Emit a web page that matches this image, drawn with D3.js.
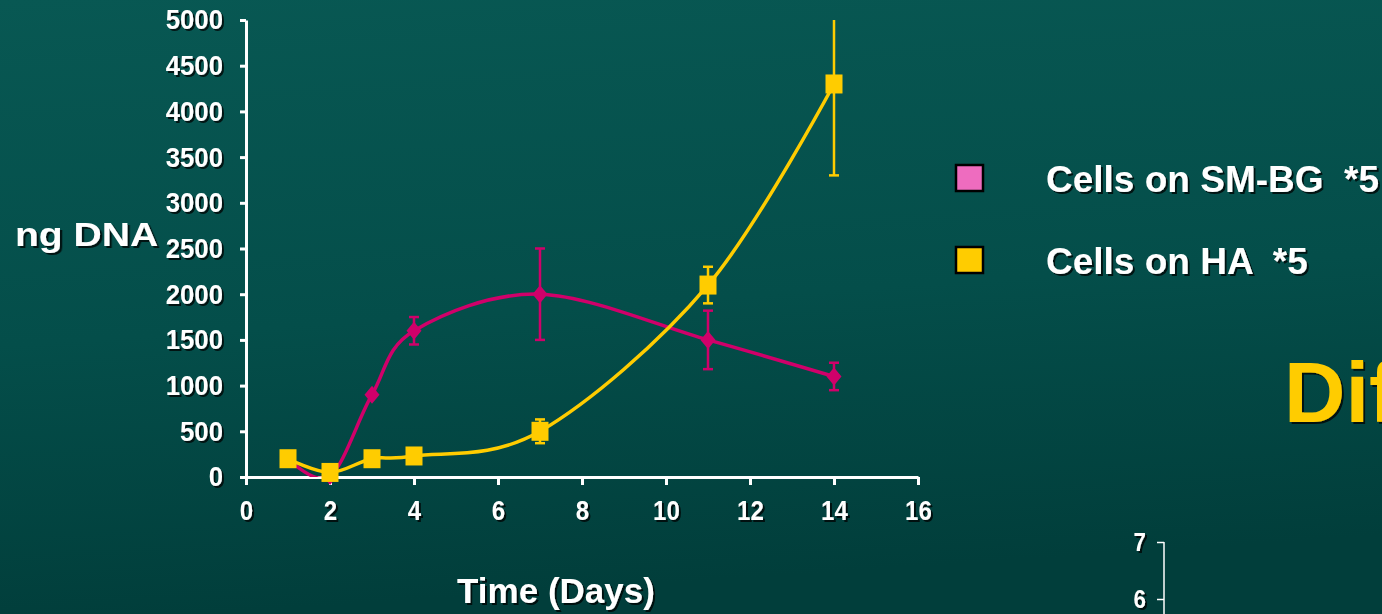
<!DOCTYPE html>
<html>
<head>
<meta charset="utf-8">
<script src="https://cdn.jsdelivr.net/npm/d3@7"></script>
<style>
  html, body { margin: 0; padding: 0; background: #05504c; overflow: hidden; }
  svg { display: block; }
</style>
</head>
<body>
<div id="chart"></div>
<script>
// Data
const days = [1, 2, 3, 4, 7, 11, 14];
const smbgValues = [200, 10, 900, 1600, 2000, 1500, 1100];
const smbgErrors = [0, 0, 0, 150, 500, 320, 150];
const haValues = [200, 50, 200, 230, 500, 2100, 4300];
const haErrors = [0, 0, 0, 0, 130, 200, 1000];
const xTicks = [0, 2, 4, 6, 8, 10, 12, 14, 16];
const yTicks = [0, 500, 1000, 1500, 2000, 2500, 3000, 3500, 4000, 4500, 5000];
const legendLabels = ["Cells on SM-BG  *5", "Cells on HA  *5"];
const secondTicks = [6, 7];

const width = 1382, height = 614;
const colorPink = "#d0006a";
const colorPinkLegend = "#ee6cbf";
const colorYellow = "#ffcc00";
const mainFont = "'Liberation Sans', Arial, sans-serif";

const svg = d3.select("#chart").append("svg")
  .attr("width", width)
  .attr("height", height);

const defs = svg.append("defs");
const grad = defs.append("linearGradient")
  .attr("id", "bg").attr("x1", 0).attr("y1", 0).attr("x2", 0.15).attr("y2", 1);
grad.append("stop").attr("offset", "0%").attr("stop-color", "#085853");
grad.append("stop").attr("offset", "55%").attr("stop-color", "#044e4a");
grad.append("stop").attr("offset", "100%").attr("stop-color", "#013e3b");

// dark text shadow like the slide
const shadow = defs.append("filter").attr("id", "shadow")
  .attr("x", "-10%").attr("y", "-10%").attr("width", "130%").attr("height", "140%");
shadow.append("feDropShadow")
  .attr("dx", 2).attr("dy", 2).attr("stdDeviation", 0.6)
  .attr("flood-color", "#000").attr("flood-opacity", 0.75);

// plot area clip (lines stay inside 0..5000)
defs.append("clipPath").attr("id", "plotClip")
  .append("rect").attr("x", 200).attr("y", 19).attr("width", 760).attr("height", 458);

svg.append("rect").attr("width", width).attr("height", height).attr("fill", "url(#bg)");

// scales
const x = d3.scaleLinear().domain([0, 16]).range([246, 918]);
const y = d3.scaleLinear().domain([0, 5000]).range([477, 20]);

// axes
const yAxis = svg.append("g")
  .attr("transform", `translate(${x(0)},0)`)
  .call(d3.axisLeft(y).tickValues(yTicks).tickSize(6).tickSizeOuter(0).tickPadding(17)
    .tickFormat(d3.format("d")));

const xAxis = svg.append("g")
  .attr("transform", `translate(0,${y(0)})`)
  .call(d3.axisBottom(x).tickValues(xTicks).tickSize(8).tickSizeOuter(0).tickPadding(15)
    .tickFormat(d3.format("d")));

// the slide uses a narrow bold face for tick labels: squeeze the glyphs a bit
function narrow(sel, ratio) {
  sel.each(function() {
    const w = this.getComputedTextLength();
    d3.select(this).attr("textLength", w * ratio).attr("lengthAdjust", "spacingAndGlyphs");
  });
}

[[yAxis, 0.92], [xAxis, 0.86]].forEach(([g, ratio]) => {
  g.select(".domain").attr("stroke", "#fff").attr("stroke-width", 3);
  g.selectAll(".tick line").attr("stroke", "#fff").attr("stroke-width", 3);
  g.selectAll(".tick text")
    .attr("fill", "#fff")
    .style("font-family", mainFont)
    .style("font-weight", "bold")
    .style("font-size", "28px")
    .attr("filter", "url(#shadow)")
    .call(narrow, ratio);
});

// series
const curve = d3.curveCatmullRom.alpha(0);
const line = d3.line().curve(curve).x(d => x(d.day)).y(d => y(d.value));

const smbg = days.map((d, i) => ({ day: d, value: smbgValues[i], err: smbgErrors[i] }));
const ha = days.map((d, i) => ({ day: d, value: haValues[i], err: haErrors[i] }));

function drawErrors(parent, data, color) {
  const eb = parent.append("g").attr("stroke", color).attr("stroke-width", 2.5);
  data.filter(d => d.err > 0).forEach(d => {
    const top = Math.min(d.value + d.err, 5000);
    const bot = d.value - d.err;
    eb.append("line").attr("x1", x(d.day)).attr("x2", x(d.day))
      .attr("y1", y(top)).attr("y2", y(bot));
    if (d.value + d.err <= 5000) {
      eb.append("line").attr("x1", x(d.day) - 5).attr("x2", x(d.day) + 5)
        .attr("y1", y(top)).attr("y2", y(top));
    }
    eb.append("line").attr("x1", x(d.day) - 5).attr("x2", x(d.day) + 5)
      .attr("y1", y(bot)).attr("y2", y(bot));
  });
}

// SM-BG (pink, diamonds)
const plot = svg.append("g").attr("clip-path", "url(#plotClip)");
drawErrors(plot, smbg, colorPink);
plot.append("path").datum(smbg)
  .attr("d", line).attr("fill", "none")
  .attr("stroke", colorPink).attr("stroke-width", 3.5);

// markers are drawn unclipped so the squares on the axis stay whole
svg.append("g").selectAll("path.diamond").data(smbg).enter().append("path")
  .attr("class", "diamond")
  .attr("d", d => {
    const cx = x(d.day), cy = y(d.value);
    return `M${cx},${cy - 9}L${cx + 7.5},${cy}L${cx},${cy + 9}L${cx - 7.5},${cy}Z`;
  })
  .attr("fill", colorPink);

// HA (yellow, squares) drawn on top
const plot2 = svg.append("g").attr("clip-path", "url(#plotClip)");
drawErrors(plot2, ha, colorYellow);
plot2.append("path").datum(ha)
  .attr("d", line).attr("fill", "none")
  .attr("stroke", colorYellow).attr("stroke-width", 3.5);
svg.append("g").selectAll("rect.sq").data(ha).enter().append("rect")
  .attr("class", "sq")
  .attr("x", d => x(d.day) - 8.5)
  .attr("y", d => y(d.value) - 9.5)
  .attr("width", 17).attr("height", 19)
  .attr("fill", colorYellow);

// axis titles
svg.append("text").text("ng DNA")
  .attr("transform", "translate(15,246) scale(1.15,1)")
  .attr("fill", "#fff").attr("filter", "url(#shadow)")
  .style("font-family", mainFont).style("font-weight", "bold").style("font-size", "34px");

svg.append("text").text("Time (Days)")
  .attr("x", 556).attr("y", 603).attr("text-anchor", "middle")
  .attr("fill", "#fff").attr("filter", "url(#shadow)")
  .style("font-family", mainFont).style("font-weight", "bold").style("font-size", "35px");

// legend
const legendColors = [colorPinkLegend, colorYellow];
const legendY = [178, 260];
legendLabels.forEach((label, i) => {
  svg.append("rect")
    .attr("x", 956).attr("y", legendY[i] - 13)
    .attr("width", 27).attr("height", 26)
    .attr("fill", legendColors[i])
    .attr("stroke", "#000").attr("stroke-width", 2.5);
  svg.append("text").text(label)
    .attr("x", 1046).attr("y", legendY[i] + 14)
    .attr("fill", "#fff").attr("filter", "url(#shadow)")
    .attr("xml:space", "preserve").style("white-space", "pre")
    .style("font-family", mainFont).style("font-weight", "bold").style("font-size", "37px");
});

// slide title fragment (runs off the right edge, as on the slide)
svg.append("text").text("Dif")
  .attr("x", 1284).attr("y", 422)
  .attr("fill", colorYellow).attr("filter", "url(#shadow)")
  .style("font-family", mainFont).style("font-weight", "bold").style("font-size", "85px");

// partial second chart (bottom right)
const y2 = d3.scaleLinear().domain([6, 7]).range([599, 542]);
const axis2 = svg.append("g")
  .attr("transform", "translate(1164,0)")
  .call(d3.axisLeft(y2).tickValues(secondTicks).tickSize(7).tickSizeOuter(0).tickPadding(11)
    .tickFormat(d3.format("d")));
axis2.select(".domain").attr("d", `M0,${y2(7)}V${height + 5}`)
  .attr("stroke", "#fff").attr("stroke-width", 1.5);
axis2.selectAll(".tick line").attr("stroke", "#fff").attr("stroke-width", 1.5);
axis2.selectAll(".tick text")
  .attr("fill", "#fff").attr("filter", "url(#shadow)")
  .style("font-family", mainFont).style("font-weight", "bold").style("font-size", "26px")
  .call(narrow, 0.86);
</script>
</body>
</html>
